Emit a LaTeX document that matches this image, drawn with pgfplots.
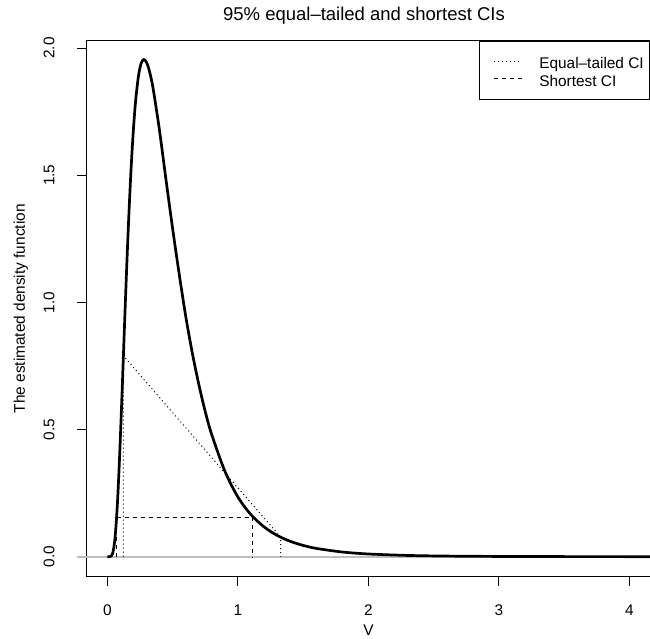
\documentclass[border=0pt]{standalone}
\usepackage{pgfplots}
\pgfplotsset{compat=1.18}
\usepackage{fontspec}
\setmainfont{Liberation Sans}
\definecolor{rgrey}{RGB}{190,190,190}
\pgfplotstableread{
x y
0 0
0.01 0
0.02 0.0002
0.03 0.0023
0.04 0.0116
0.05 0.0351
0.06 0.0787
0.07 0.1449
0.08 0.2335
0.09 0.342
0.10 0.4658
0.11 0.6006
0.12 0.7405
0.13 0.882
0.14 1.0215
0.15 1.1555
0.16 1.2812
0.17 1.3973
0.18 1.5029
0.19 1.5967
0.20 1.6793
0.21 1.7498
0.22 1.8086
0.24 1.8945
0.26 1.9414
0.28 1.9550
0.30 1.9440
0.32 1.9150
0.35 1.844
0.40 1.676
0.45 1.481
0.50 1.292
0.55 1.114
0.60 0.948
0.65 0.804
0.70 0.680
0.75 0.571
0.80 0.480
0.90 0.337
1.0 0.235
1.1 0.1656
1.2 0.1175
1.3 0.0841
1.4 0.0607
1.5 0.0444
1.6 0.0327
1.8 0.0184
2.0 0.0106
2.3 0.0049
2.6 0.0024
3.0 0.0010
3.5 0.00035
4.0 0.00014
4.2 0.0001
}\dens
\begin{document}
\begin{tikzpicture}
\begin{axis}[
  at={(0,0)}, anchor=south west,
  scale only axis, width=564pt, height=535.6pt,
  xmin=-0.16, xmax=4.16, ymin=-0.0783, ymax=2.028,
  clip=false,
  axis line style={line width=1pt, black},
  tick pos=left, tick align=outside, major tick length=9pt,
  tick style={line width=1pt, black},
  xtick={0,1,2,3,4}, xticklabels={0,1,2,3,4},
  ytick={0,0.5,1,1.5,2}, yticklabels={0.0,0.5,1.0,1.5,2.0},
  ticklabel style={font=\fontsize{15.4}{18}\selectfont},
  xticklabel style={anchor=base, yshift=-29.4pt},
  yticklabel style={xshift=-23.1pt, rotate=90, anchor=base},
  title={95\% equal–tailed and shortest CIs},
  title style={at={(axis description cs:0.4922,1.02614)}, anchor=base, font=\fontsize{18.5}{22}\selectfont},
  xlabel={V},
  xlabel style={at={(axis description cs:0.5,-0.1109)}, anchor=base, font=\fontsize{15.4}{18}\selectfont},
  ylabel={The estimated density function},
  ylabel style={at={(axis description cs:-0.10887,0.5)}, anchor=base, font=\fontsize{15.4}{18}\selectfont},
  legend cell align=left,
  legend style={at={(1,1)}, anchor=north east, draw=black, line width=1pt, fill=white,
    inner xsep=14pt, inner ysep=11.5pt, row sep=0pt, column sep=17pt,
    nodes={inner sep=0pt}, font=\fontsize{15.4}{18}\selectfont},
  legend image code/.code={\draw[#1] (0pt,0pt) -- (28pt,0pt);},
]
\addplot[rgrey, line width=1.8pt, forget plot] coordinates {(-0.232,0) (4.3,0)};
\addplot[black, line width=2.7pt, smooth, forget plot] table[x=x,y=y] {\dens};
\addplot[black, line width=1pt, dash pattern=on 1pt off 3pt] coordinates {(0.123,0) (0.123,0.79) (1.328,0.077) (1.328,0)};
\addlegendentry{\rule[-4.5pt]{0pt}{20.3pt}\makebox[96.6pt][l]{Equal–tailed CI}}
\addplot[black, line width=1pt, dash pattern=on 4pt off 4pt] coordinates {(0.069,0) (0.069,0.156) (1.116,0.156) (1.116,0)};
\addlegendentry{\rule[-4.5pt]{0pt}{20.3pt}\makebox[96.6pt][l]{Shortest CI}}
\end{axis}
\pgfresetboundingbox
\useasboundingbox (-86.4pt,-62.4pt) rectangle (563.6pt,576.6pt);
\end{tikzpicture}
\end{document}
